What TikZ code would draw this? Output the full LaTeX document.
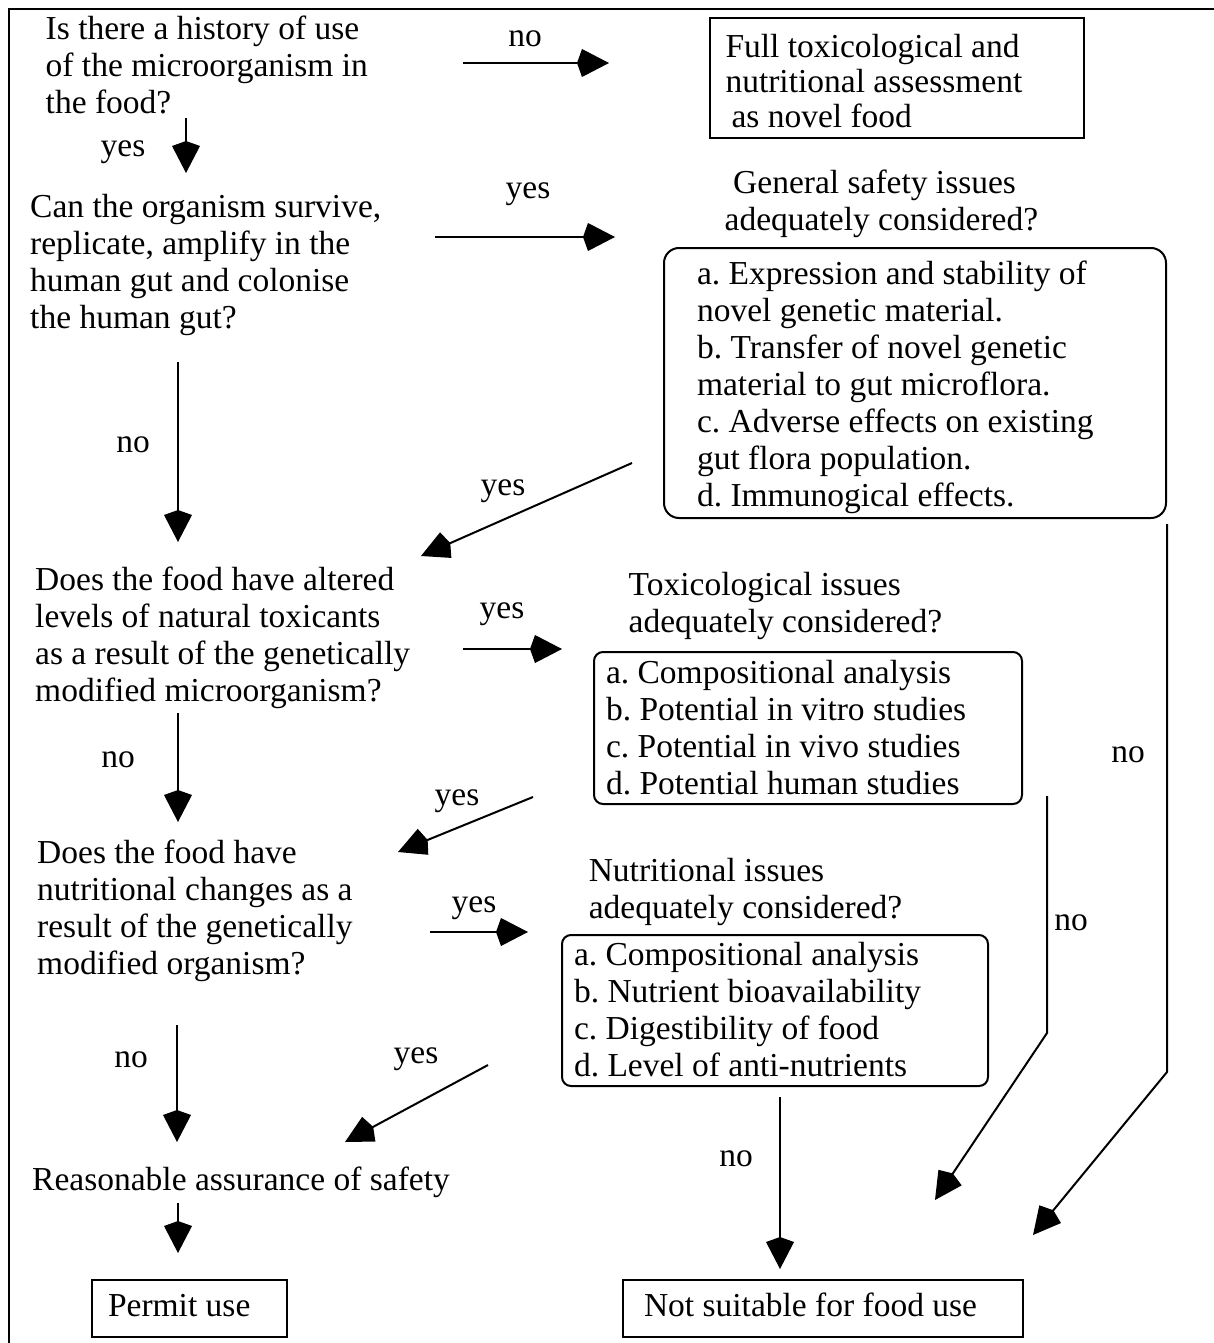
\documentclass[tikz,border=0pt]{standalone}
\usepackage{fontspec}
\setmainfont{Liberation Serif}
\usetikzlibrary{arrows.meta}

\begin{document}
\begin{tikzpicture}[
    x=1pt, y=-1pt,
    txt/.style={inner sep=0, align=left, anchor=north west, font=\fontsize{33.5pt}{37pt}\selectfont},
    lbl/.style={inner sep=0, anchor=base, font=\fontsize{33.5pt}{37pt}\selectfont},
    box/.style={draw, line width=2pt, inner ysep=0, align=flush left, anchor=north west, font=\fontsize{33.5pt}{37pt}\selectfont\frenchspacing},
    rbox/.style={box, rounded corners=9pt},
    arr/.style={-{Kite[length=32pt, width=28pt, inset=5pt]}, line width=2pt}
]
\useasboundingbox (0,0) rectangle (1214,1343);
\draw[line width=2.5pt] (9,1360) |- (1230,9);

\node[txt] (q1) at (45.5,15.4) {Is there a history of use\\of the microorganism in\\the food?};
\node[box, text width=343pt, inner xsep=15.5pt, minimum height=120pt, text height=30pt, font=\fontsize{33.5pt}{35pt}\selectfont\frenchspacing] (full) at (709,17) {Full toxicological and\\nutritional assessment\\\hspace*{6pt}as novel food};
\node[txt] (q2) at (30,194) {Can the organism survive,\\replicate, amplify in the\\human gut and colonise\\the human gut?};
\node[txt] (gshead) at (724.5,170) {\hspace*{8.5pt}General safety issues\\adequately considered?};
\node[rbox, rounded corners=15pt, text width=436pt, inner xsep=33pt, minimum height=270pt, text height=31.3pt] (gsbox) at (663,247) {a. Expression and stability of\\novel genetic material.\\b. Transfer of novel genetic\\material to gut microflora.\\c. Adverse effects on existing\\gut flora population.\\d. Immunogical effects.};
\node[txt] (q3) at (35,567) {Does the food have altered\\levels of natural toxicants\\as a result of the genetically\\modified microorganism?};
\node[txt] (toxhead) at (628.5,572) {Toxicological issues\\adequately considered?};
\node[rbox, text width=404pt, inner xsep=12pt, minimum height=152pt] (toxbox) at (593,651) {a. Compositional analysis\\b. Potential in vitro studies\\c. Potential in vivo studies\\d. Potential human studies};
\node[txt] (q4) at (37,840) {Does the food have\\nutritional changes as a\\result of the genetically\\modified organism?};
\node[txt] (nuthead) at (588.6,858) {Nutritional issues\\adequately considered?};
\node[rbox, text width=402pt, inner xsep=12pt, minimum height=151pt, text height=22pt] (nutbox) at (561,934) {a. Compositional analysis\\b. Nutrient bioavailability\\c. Digestibility of food\\d. Level of anti-nutrients};
\node[lbl, anchor=base west] (safe) at (32,1190) {Reasonable assurance of safety};
\node[box, text width=163pt, inner xsep=16pt, minimum height=57pt, text height=23pt, text depth=7.3pt] (permit) at (91,1279) {Permit use};
\node[box, text width=358pt, inner xsep=21pt, minimum height=57pt, text height=23pt, text depth=7.3pt] (notfit) at (622,1279) {Not suitable for food use};

\node[lbl] (l1) at (525,46.7) {no};
\node[lbl] (l2) at (123,157) {yes};
\node[lbl] (l3) at (528,199) {yes};
\node[lbl] (l4) at (133,452) {no};
\node[lbl] (l5) at (503,495) {yes};
\node[lbl] (l6) at (502,618) {yes};
\node[lbl] (l7) at (118,767) {no};
\node[lbl] (l8) at (1128,762) {no};
\node[lbl] (l9) at (457,805) {yes};
\node[lbl] (l10) at (474,912) {yes};
\node[lbl] (l11) at (1071,930) {no};
\node[lbl] (l12) at (131,1067) {no};
\node[lbl] (l13) at (416,1063) {yes};
\node[lbl] (l14) at (736,1166) {no};

% connector end points
\coordinate (a1s) at (463,63);   \coordinate (a1e) at (609,63);
\coordinate (a2s) at (186,118);  \coordinate (a2e) at (186,173);
\coordinate (a3s) at (435,237);  \coordinate (a3e) at (615,237);
\coordinate (a4s) at (178,362);  \coordinate (a4e) at (178,542);
\coordinate (a5s) at (632,463);  \coordinate (a5e) at (421,556);
\coordinate (a6s) at (463,649);  \coordinate (a6e) at (562,649);
\coordinate (a7s) at (178,713);  \coordinate (a7e) at (178,822);
\coordinate (a8s) at (533,797);  \coordinate (a8e) at (398,852);
\coordinate (a9s) at (430,932);  \coordinate (a9e) at (528,932);
\coordinate (a10s) at (177,1025); \coordinate (a10e) at (177,1142);
\coordinate (a11s) at (488,1065); \coordinate (a11e) at (345,1142);
\coordinate (a12s) at (178,1203); \coordinate (a12e) at (178,1253);
\coordinate (a13s) at (780,1097); \coordinate (a13e) at (780,1269);
\coordinate (a14s) at (1047,796); \coordinate (a14m) at (1047,1033); \coordinate (a14e) at (935,1200);
\coordinate (a15s) at (1167,524); \coordinate (a15m) at (1167,1072); \coordinate (a15e) at (1033,1235);

\draw[arr] (a1s) -- (a1e);
\draw[arr] (a2s) -- (a2e);
\draw[arr] (a3s) -- (a3e);
\draw[arr] (a4s) -- (a4e);
\draw[arr] (a5s) -- (a5e);
\draw[arr] (a6s) -- (a6e);
\draw[arr] (a7s) -- (a7e);
\draw[arr] (a8s) -- (a8e);
\draw[arr] (a9s) -- (a9e);
\draw[arr] (a10s) -- (a10e);
\draw[arr] (a11s) -- (a11e);
\draw[arr] (a12s) -- (a12e);
\draw[arr] (a13s) -- (a13e);
\draw[arr] (a14s) -- (a14m) -- (a14e);
\draw[arr] (a15s) -- (a15m) -- (a15e);
\end{tikzpicture}
\end{document}
